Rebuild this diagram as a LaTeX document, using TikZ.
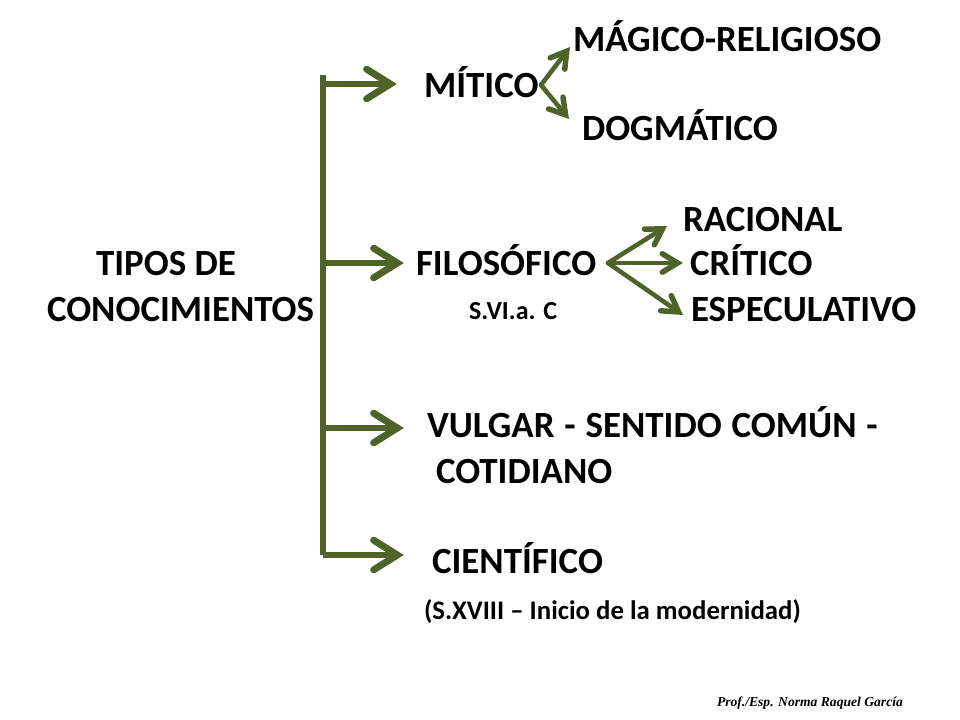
\documentclass[tikz,border=0pt]{standalone}
\usepackage{fontspec}
\setmainfont{Carlito}
\newfontfamily\sigfont{Liberation Serif}
\usetikzlibrary{calc}
\definecolor{olive}{HTML}{4F6228}
\tikzset{
  lbl/.style={anchor=base west,inner sep=0pt,outer sep=0pt,font=\fontsize{27.7}{32}\selectfont\bfseries,text=black},
  sublbl/.style={lbl,font=\fontsize{20.1}{24}\selectfont\bfseries},
  tinylbl/.style={lbl,font=\fontsize{19.5}{23}\selectfont\bfseries},
  siglbl/.style={lbl,font=\fontsize{10.2}{12}\selectfont\sigfont\bfseries\itshape},
  trunkline/.style={draw=olive,line width=4.4pt},
  bigshaft/.style={draw=olive,line width=4.8pt},
  bigbarb/.style={draw=olive,line width=5.2pt,line cap=round,line join=miter,miter limit=10},
  smallshaft/.style={draw=olive,line width=3.4pt,line cap=round},
  smallbarb/.style={draw=olive,line width=4.1pt,line cap=round,line join=miter,miter limit=10}
}
% #1 source, #2 tip: straight open arrowheads whose mitre point lands on the tip
\newcommand{\bigarr}[2]{%
  \draw[bigshaft] (#1) -- ($(#2)!9pt!(#1)$);
  \draw[bigbarb] ($($(#2)!5pt!(#1)$)!21pt!32:(#1)$) -- ($(#2)!5pt!(#1)$) -- ($($(#2)!5pt!(#1)$)!21pt!-32:(#1)$);
}
\newcommand{\smallarr}[2]{%
  \draw[smallshaft] (#1) -- ($(#2)!6.5pt!(#1)$);
  \draw[smallbarb] ($($(#2)!4pt!(#1)$)!13.5pt!31:(#1)$) -- ($(#2)!4pt!(#1)$) -- ($($(#2)!4pt!(#1)$)!13.5pt!-31:(#1)$);
}
\begin{document}
\begin{tikzpicture}[x=0.75pt,y=-0.75pt]
\useasboundingbox (0,0) rectangle (960,720);
\node[lbl] (magico) at (573,52) {MÁGICO-RELIGIOSO};
\node[lbl] (mitico) at (424,98) {MÍTICO};
\node[lbl] (dogma) at (582,141) {DOGMÁTICO};
\node[lbl] (racional) at (683,232) {RACIONAL};
\node[lbl] (tipos) at (96,276) {TIPOS DE};
\node[lbl] (filo) at (416,276) {FILOSÓFICO};
\node[lbl] (critico) at (690,276) {CRÍTICO};
\node[lbl] (conoc) at (47,321) {CONOCIMIENTOS};
\node[tinylbl] (svi) at (469,320) {S.VI.a. C};
\node[lbl] (espec) at (691,321) {ESPECULATIVO};
\node[lbl] (vulgar) at (427,437) {\spaceskip=7.4pt VULGAR - SENTIDO COMÚN -};
\node[lbl] (cotid) at (436,483) {COTIDIANO};
\node[lbl] (cient) at (432,573) {CIENTÍFICO};
\node[sublbl] (sxviii) at (424,619) {(S.XVIII – Inicio de la modernidad)};
\node[siglbl] (firma) at (717,706) {Prof./Esp. Norma Raquel García};
\coordinate (ttop) at (323,75);
\coordinate (tbot) at (323,555);
\coordinate (b1) at (323,84);
\coordinate (b2) at (323,263);
\coordinate (b3) at (323,428);
\coordinate (b4) at (323,555);
\coordinate (t1) at (397,84);
\coordinate (t2) at (404,263);
\coordinate (t3) at (404,428);
\coordinate (t4) at (404,555);
\coordinate (mo) at (541,85);
\coordinate (mu) at (570,47);
\coordinate (md) at (569,119);
\coordinate (fo) at (608,263);
\coordinate (fu) at (667,226);
\coordinate (fm) at (683,263);
\coordinate (fd) at (683,315);
\draw[trunkline] (ttop) -- (tbot);
\bigarr{b1}{t1}
\bigarr{b2}{t2}
\bigarr{b3}{t3}
\bigarr{b4}{t4}
\smallarr{mo}{mu}
\smallarr{mo}{md}
\smallarr{fo}{fu}
\smallarr{fo}{fm}
\smallarr{fo}{fd}
\end{tikzpicture}
\end{document}
